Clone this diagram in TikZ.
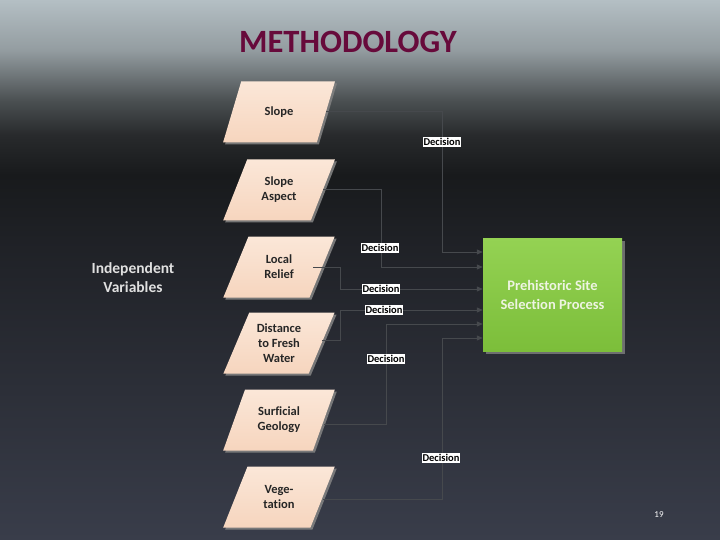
\documentclass[tikz,border=0pt]{standalone}
\usepackage{fontspec}
\setmainfont{Carlito}[Ligatures=NoCommon]
\usetikzlibrary{positioning, arrows.meta, shapes.geometric, shadows}
\definecolor{bgtop}{RGB}{180, 191, 196}
\definecolor{bgmid}{RGB}{148, 157, 161}
\definecolor{bggrey}{RGB}{75, 80, 82}
\definecolor{bgshade}{RGB}{40, 42, 44}
\definecolor{bgdark}{RGB}{24, 26, 28}
\definecolor{bgdarkb}{RGB}{31, 33, 38}
\definecolor{bgbottom}{RGB}{57, 61, 74}
\definecolor{titlered}{RGB}{103, 10, 59}
\definecolor{peachlight}{RGB}{251, 231, 216}
\definecolor{peachdark}{RGB}{246, 213, 190}
\definecolor{sitegreen}{RGB}{148, 210, 83}
\definecolor{sitegreendark}{RGB}{124, 190, 58}
\definecolor{sitetext}{RGB}{238, 244, 226}
\definecolor{linegrey}{RGB}{70, 73, 77}
\pgfdeclareverticalshading{slidebg}{100bp}{color(0bp)=(bgbottom); color(25bp)=(bgbottom);
  color(52.8bp)=(bgdarkb); color(58.8bp)=(bgdark); color(62.5bp)=(bgshade);
  color(65.7bp)=(bggrey); color(70.4bp)=(bgmid); color(75bp)=(bgtop); color(100bp)=(bgtop)}

\begin{document}
\begin{tikzpicture}[x=1pt, y=-1pt,
    varbox/.style={trapezium, trapezium left angle=64, trapezium right angle=116,
      trapezium stretches=true, minimum width=112pt, minimum height=61pt,
      top color=peachlight, bottom color=peachdark, align=center, text=black!85,
      font=\fontsize{12.5}{15}\selectfont\bfseries,
      drop shadow={shadow xshift=2pt, shadow yshift=-2pt, fill=gray, opacity=0.9}},
    decision/.style={fill=white, text=black, inner xsep=1pt, inner ysep=0.8pt,
      font=\fontsize{10.5}{11}\selectfont\bfseries},
    conn/.style={draw=linegrey, line width=1pt, -{Triangle[length=6pt, width=5pt]}}]

    \shade[shading=slidebg] (0,0) rectangle (720,540);
    \useasboundingbox (0,0) rectangle (720,540);

    \node[font=\fontsize{32.5}{36}\selectfont\bfseries, text=titlered] (title) at (348,42) {METHODOLOGY};

    \node[varbox] (slope)   at (279,112) {Slope};
    \node[varbox] (aspect)  at (279,190) {Slope\\Aspect};
    \node[varbox] (relief)  at (279,267) {Local\\Relief};
    \node[varbox] (water)   at (279,343) {Distance\\to Fresh\\Water};
    \node[varbox] (geology) at (279,420) {Surficial\\Geology};
    \node[varbox] (veget)   at (279,497) {Vege-\\tation};

    \node[align=center, text=white!88!black, font=\fontsize{15.5}{19}\selectfont\bfseries]
        (indep) at (133,278) {Independent\\Variables};

    \node[minimum width=139pt, minimum height=113pt, top color=sitegreen, bottom color=sitegreendark,
        align=center, text=sitetext, font=\fontsize{14.5}{19}\selectfont\bfseries,
        drop shadow={shadow xshift=3pt, shadow yshift=-3pt, fill=gray, opacity=0.8}]
        (process) at (552.5,294.5) {Prehistoric Site\\Selection Process};

    \draw[conn] (slope.east) -| (442,252) -- (process.west |- 0,252);
    \draw[conn] (aspect.east) -| (381,267) -- (process.west |- 0,267);
    \draw[conn] ([xshift=-9pt]relief.east) -| (340,289) -- (process.west |- 0,289);
    \draw[conn] ([yshift=3pt]water.east) -| (340,310) -- (process.west |- 0,310);
    \draw[conn] ([yshift=-4pt]geology.east) -| (386,324) -- (process.west |- 0,324);
    \draw[conn] ([yshift=-2pt]veget.east) -| (442,338) -- (process.west |- 0,338);

    \node[decision] (dslope)   at (442,142) {Decision};
    \node[decision] (daspect)  at (380,248) {Decision};
    \node[decision] (drelief)  at (381,289) {Decision};
    \node[decision] (dwater)   at (384,310) {Decision};
    \node[decision] (dgeology) at (386,359) {Decision};
    \node[decision] (dveget)   at (441,458) {Decision};

    \node[text=white, font=\fontsize{9}{10}\selectfont] (pagenum) at (659,515) {19};

\end{tikzpicture}
\end{document}
